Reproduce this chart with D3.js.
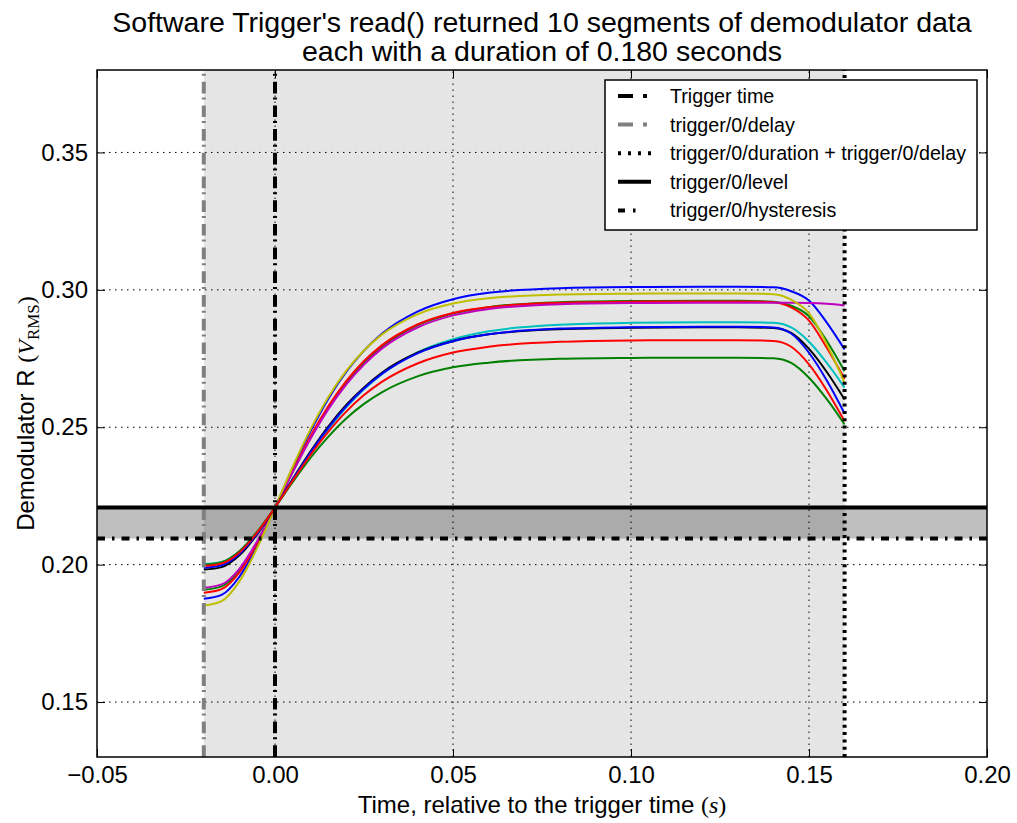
<!DOCTYPE html>
<html>
<head>
<meta charset="utf-8">
<script src="https://cdn.jsdelivr.net/npm/d3@7"></script>
<style>
  body { margin: 0; background: #fff; }
  svg text { font-family: "Liberation Sans", Arial, sans-serif; fill: #000; }
</style>
</head>
<body>
<svg id="chart" width="1017" height="823"></svg>
<script>
// Sample times of each read segment (s, relative to the trigger)
const times = [-0.02, -0.015, -0.01, -0.005, 0, 0.005, 0.01, 0.015, 0.02, 0.025, 0.03, 0.04, 0.05, 0.06, 0.08, 0.10, 0.12, 0.13, 0.14, 0.145, 0.15, 0.155, 0.16];

// Demodulator R (V_RMS) for the 10 returned segments
const seg0 = [0.1876, 0.1890, 0.1956, 0.2069, 0.2208, 0.2352, 0.2486, 0.2604, 0.2701, 0.2779, 0.2840, 0.2921, 0.2966, 0.2989, 0.3006, 0.3010, 0.3011, 0.3011, 0.3009, 0.2995, 0.2961, 0.2881, 0.2783];
const seg1 = [0.1909, 0.1921, 0.1980, 0.2082, 0.2208, 0.2339, 0.2463, 0.2571, 0.2662, 0.2735, 0.2793, 0.2871, 0.2914, 0.2937, 0.2955, 0.2959, 0.2960, 0.2960, 0.2957, 0.2942, 0.2904, 0.2814, 0.2704];
const seg2 = [0.1898, 0.1911, 0.1972, 0.2078, 0.2208, 0.2342, 0.2468, 0.2577, 0.2668, 0.2741, 0.2798, 0.2874, 0.2916, 0.2937, 0.2953, 0.2957, 0.2958, 0.2958, 0.2955, 0.2936, 0.2888, 0.2789, 0.2676];
const seg3 = [0.2002, 0.2010, 0.2048, 0.2118, 0.2208, 0.2306, 0.2404, 0.2493, 0.2572, 0.2638, 0.2693, 0.2772, 0.2820, 0.2849, 0.2873, 0.2880, 0.2882, 0.2882, 0.2880, 0.2863, 0.2811, 0.2734, 0.2644];
const seg4 = [0.1916, 0.1928, 0.1985, 0.2085, 0.2208, 0.2337, 0.2459, 0.2566, 0.2655, 0.2728, 0.2786, 0.2863, 0.2907, 0.2930, 0.2948, 0.2952, 0.2953, 0.2953, 0.2953, 0.2953, 0.2952, 0.2949, 0.2943];
const seg5 = [0.1851, 0.1867, 0.1939, 0.2061, 0.2208, 0.2357, 0.2493, 0.2610, 0.2705, 0.2779, 0.2837, 0.2911, 0.2950, 0.2969, 0.2983, 0.2986, 0.2987, 0.2987, 0.2984, 0.2964, 0.2915, 0.2802, 0.2662];
const seg6 = [0.1982, 0.1991, 0.2034, 0.2111, 0.2208, 0.2312, 0.2412, 0.2503, 0.2581, 0.2645, 0.2698, 0.2771, 0.2814, 0.2838, 0.2857, 0.2862, 0.2864, 0.2864, 0.2861, 0.2843, 0.2785, 0.2701, 0.2601];
const seg7 = [0.1989, 0.1998, 0.2039, 0.2113, 0.2208, 0.2310, 0.2409, 0.2499, 0.2576, 0.2641, 0.2694, 0.2769, 0.2813, 0.2838, 0.2859, 0.2864, 0.2866, 0.2866, 0.2863, 0.2841, 0.2771, 0.2670, 0.2550];
const seg8 = [0.2000, 0.2009, 0.2049, 0.2120, 0.2208, 0.2301, 0.2389, 0.2466, 0.2532, 0.2585, 0.2627, 0.2685, 0.2718, 0.2735, 0.2749, 0.2752, 0.2753, 0.2753, 0.2751, 0.2734, 0.2680, 0.2602, 0.2510];
const seg9 = [0.1995, 0.2004, 0.2044, 0.2117, 0.2208, 0.2306, 0.2400, 0.2484, 0.2557, 0.2617, 0.2665, 0.2732, 0.2772, 0.2793, 0.2811, 0.2816, 0.2817, 0.2817, 0.2814, 0.2793, 0.2729, 0.2634, 0.2522];

const segments = [seg0, seg1, seg2, seg3, seg4, seg5, seg6, seg7, seg8, seg9];
const segColors = ["#0000ff", "#008000", "#ff0000", "#00bfbf", "#bf00bf", "#bfbf00", "#000000", "#0000ff", "#008000", "#ff0000"];

// Trigger settings
const triggerTime = 0.0;
const triggerDelay = -0.02;
const triggerDuration = 0.18;
const triggerLevel = 0.2208;
const triggerHysteresis = 0.0113;

// Axis ticks
const xTicks = [-0.05, 0.00, 0.05, 0.10, 0.15, 0.20];
const yTicks = [0.15, 0.20, 0.25, 0.30, 0.35];
const xDomain = [-0.05, 0.20];
const yDomain = [0.13, 0.38];

const titleLines = ["Software Trigger's read() returned 10 segments of demodulator data",
                    "each with a duration of 0.180 seconds"];
const legendLabels = ["Trigger time", "trigger/0/delay", "trigger/0/duration + trigger/0/delay",
                      "trigger/0/level", "trigger/0/hysteresis"];

// ---- layout ----
const plot = { left: 97, right: 987, top: 70, bottom: 757 };
const svg = d3.select("#chart");
const x = d3.scaleLinear().domain(xDomain).range([plot.left, plot.right]);
const y = d3.scaleLinear().domain(yDomain).range([plot.bottom, plot.top]);

const dashDot = "11.7,6,2,4";
const dashDotShort = "8,7,2.5,7";
const dotted = "3,4.3";

// shaded acquisition window (delay .. delay + duration)
svg.append("rect")
  .attr("x", x(triggerDelay))
  .attr("y", plot.top)
  .attr("width", x(triggerDelay + triggerDuration) - x(triggerDelay))
  .attr("height", plot.bottom - plot.top)
  .attr("fill", "#000").attr("fill-opacity", 0.1);

// hysteresis band
svg.append("rect")
  .attr("x", plot.left)
  .attr("y", y(triggerLevel))
  .attr("width", plot.right - plot.left)
  .attr("height", y(triggerLevel - triggerHysteresis) - y(triggerLevel))
  .attr("fill", "#000").attr("fill-opacity", 0.25);

// grid
const grid = svg.append("g").attr("stroke", "#000").attr("stroke-width", 1)
  .attr("stroke-dasharray", "1.5,4.5");
grid.selectAll("line.gx").data(xTicks.slice(1, -1)).join("line")
  .attr("x1", d => x(d)).attr("x2", d => x(d))
  .attr("y1", plot.bottom).attr("y2", plot.top);
grid.selectAll("line.gy").data(yTicks).join("line")
  .attr("x1", plot.left).attr("x2", plot.right)
  .attr("y1", d => y(d)).attr("y2", d => y(d));

// segment curves
const line = d3.line()
  .x((d, i) => x(times[i]))
  .y(d => y(d))
  .curve(d3.curveMonotoneX);
svg.append("g").selectAll("path").data(segments).join("path")
  .attr("d", d => line(d))
  .attr("fill", "none")
  .attr("stroke", (d, i) => segColors[i])
  .attr("stroke-width", 2);

// trigger markers
const marks = svg.append("g").attr("fill", "none");
marks.append("line") // trigger/0/delay
  .attr("x1", x(triggerDelay)).attr("x2", x(triggerDelay))
  .attr("y1", plot.bottom).attr("y2", plot.top)
  .attr("stroke", "#808080").attr("stroke-width", 4).attr("stroke-dasharray", dashDot);
marks.append("line") // trigger time
  .attr("x1", x(triggerTime)).attr("x2", x(triggerTime))
  .attr("y1", plot.bottom).attr("y2", plot.top)
  .attr("stroke", "#000").attr("stroke-width", 4).attr("stroke-dasharray", dashDot);
marks.append("line") // duration + delay
  .attr("x1", x(triggerDelay + triggerDuration)).attr("x2", x(triggerDelay + triggerDuration))
  .attr("y1", plot.bottom).attr("y2", plot.top)
  .attr("stroke", "#000").attr("stroke-width", 4).attr("stroke-dasharray", dotted);
marks.append("line") // level
  .attr("x1", plot.left).attr("x2", plot.right)
  .attr("y1", y(triggerLevel)).attr("y2", y(triggerLevel))
  .attr("stroke", "#000").attr("stroke-width", 4);
marks.append("line") // hysteresis
  .attr("x1", plot.left).attr("x2", plot.right)
  .attr("y1", y(triggerLevel - triggerHysteresis)).attr("y2", y(triggerLevel - triggerHysteresis))
  .attr("stroke", "#000").attr("stroke-width", 4).attr("stroke-dasharray", dashDotShort);

// axes (inward ticks on all four sides)
const fmt = d3.format(".2f");
function styleAxis(g) {
  g.select(".domain").remove();
  g.selectAll(".tick line").attr("stroke", "#000").attr("stroke-width", 1);
  g.selectAll("text").attr("font-size", 24).attr("font-family", "'Liberation Sans', Arial, sans-serif").attr("fill", "#000");
}
svg.append("g").attr("transform", `translate(0,${plot.bottom})`)
  .call(d3.axisBottom(x).tickValues(xTicks).tickFormat(fmt).tickSize(-8).tickPadding(9))
  .call(styleAxis);
svg.append("g").attr("transform", `translate(0,${plot.top})`)
  .call(d3.axisTop(x).tickValues(xTicks).tickFormat("").tickSize(-8))
  .call(styleAxis);
svg.append("g").attr("transform", `translate(${plot.left},0)`)
  .call(d3.axisLeft(y).tickValues(yTicks).tickFormat(fmt).tickSize(-8).tickPadding(9))
  .call(styleAxis);
svg.append("g").attr("transform", `translate(${plot.right},0)`)
  .call(d3.axisRight(y).tickValues(yTicks).tickFormat("").tickSize(-8))
  .call(styleAxis);

// frame
svg.append("rect")
  .attr("x", plot.left).attr("y", plot.top)
  .attr("width", plot.right - plot.left).attr("height", plot.bottom - plot.top)
  .attr("fill", "none").attr("stroke", "#000").attr("stroke-width", 1.5);

// title
svg.append("g").selectAll("text").data(titleLines).join("text")
  .attr("x", (plot.left + plot.right) / 2)
  .attr("y", (d, i) => 32 + i * 29)
  .attr("text-anchor", "middle")
  .attr("font-size", 28.5)
  .text(d => d);

// x label
const xl = svg.append("text")
  .attr("x", (plot.left + plot.right) / 2).attr("y", 813)
  .attr("text-anchor", "middle").attr("font-size", 24);
xl.append("tspan").text("Time, relative to the trigger time ");
xl.append("tspan").attr("font-family", "'Liberation Serif', serif").text("(");
xl.append("tspan").attr("font-family", "'Liberation Serif', serif").attr("font-style", "italic").text("s");
xl.append("tspan").attr("font-family", "'Liberation Serif', serif").text(")");

// y label
const yl = svg.append("text")
  .attr("transform", `translate(34,${(plot.top + plot.bottom) / 2}) rotate(-90)`)
  .attr("text-anchor", "middle").attr("font-size", 24);
yl.append("tspan").text("Demodulator R ");
yl.append("tspan").attr("font-family", "'Liberation Serif', serif").text("(");
yl.append("tspan").attr("font-family", "'Liberation Serif', serif").attr("font-style", "italic").text("V");
yl.append("tspan").attr("font-family", "'Liberation Serif', serif").attr("font-size", 17).attr("dy", 5).text("RMS");
yl.append("tspan").attr("font-family", "'Liberation Serif', serif").attr("dy", -5).text(")");

// legend
const legend = svg.append("g");
legend.append("rect")
  .attr("x", 605).attr("y", 80).attr("width", 372).attr("height", 150)
  .attr("fill", "#fff").attr("stroke", "#000").attr("stroke-width", 1.5);
const legendStyles = [
  { stroke: "#000", dash: "15,10,4,20" },
  { stroke: "#808080", dash: "15,10,4,20" },
  { stroke: "#000", dash: "3,7" },
  { stroke: "#000", dash: null },
  { stroke: "#000", dash: "7,8,2.5,30" }
];
const rows = legend.selectAll("g.row").data(legendLabels).join("g")
  .attr("transform", (d, i) => `translate(0,${96 + i * 28.6})`);
rows.append("line")
  .attr("x1", 618).attr("x2", 651).attr("y1", 0).attr("y2", 0)
  .attr("stroke", (d, i) => legendStyles[i].stroke)
  .attr("stroke-width", 4)
  .attr("stroke-dasharray", (d, i) => legendStyles[i].dash);
rows.append("text")
  .attr("x", 670).attr("y", 7)
  .attr("font-size", 19.7)
  .text(d => d);
</script>
</body>
</html>
